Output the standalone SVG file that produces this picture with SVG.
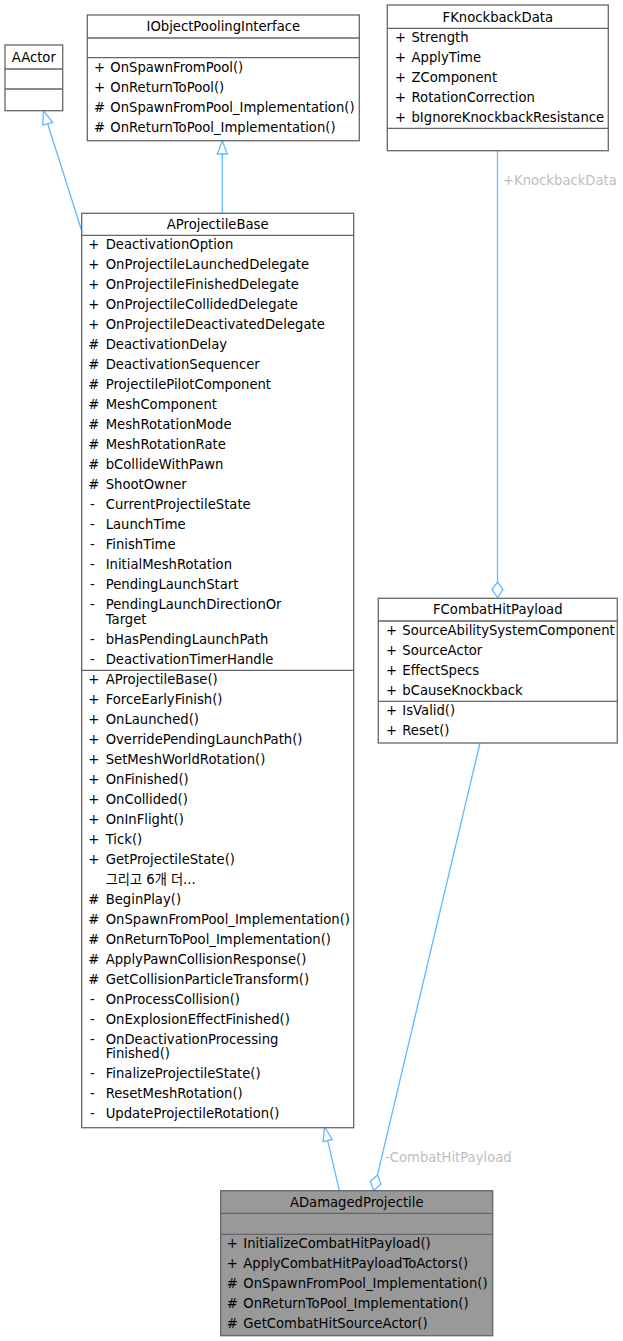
<svg xmlns="http://www.w3.org/2000/svg" width="623" height="1341" viewBox="0 0 623 1341">
<style>
.box{fill:#ffffff;stroke:#666666;stroke-width:1.3}
.dark{fill:#999999;stroke:#666666;stroke-width:1.3}
.sep{stroke:#666666;stroke-width:1.3}
text{font-family:"DejaVu Sans","Noto Sans CJK KR",sans-serif;font-size:13.2px;fill:#000000}
.t{text-anchor:middle}
.lbl{fill:#bebebe}
.edge{stroke:#63b8ff;stroke-width:1.3;fill:none}
.head{stroke:#63b8ff;stroke-width:1.3;fill:#ffffff}
</style>
<rect width="623" height="1341" fill="#ffffff"/>
<g id="connectors">
<path class="edge" d="M82,231.7 L45.5,117"/>
<polygon class="head" points="43.4,110.5 42.7,125 52.7,122.7"/>
<path class="edge" d="M222.3,213.3 L222.3,154"/>
<polygon class="head" points="222.3,140.7 217.3,154 227.3,154"/>
<path class="edge" d="M497.5,150.7 L497.5,582"/>
<polygon class="head" points="497.5,597.5 492,589.5 497.5,582 503,589.5"/>
<text class="lbl" x="503" y="184.5">+KnockbackData</text>
<path class="edge" d="M339.3,1190.7 L327.7,1140.6"/>
<polygon class="head" points="324.5,1127 323.1,1141.7 332.3,1139.5"/>
<path class="edge" d="M480,743 L377.5,1174.9"/>
<polygon class="head" points="373.8,1190.5 370.3,1181.4 377.5,1174.9 381,1184"/>
<text class="lbl" x="385" y="1162">-CombatHitPayload</text>
</g>
<g id="AActor">
<rect class="box" x="5" y="45" width="57.7" height="65.7"/>
<line class="sep" x1="5" y1="69" x2="62.7" y2="69"/>
<line class="sep" x1="5" y1="89" x2="62.7" y2="89"/>
<text class="t" x="33.8" y="61.5">AActor</text>
</g>
<g id="IObjectPoolingInterface">
<rect class="box" x="87.3" y="15" width="272" height="125.7"/>
<line class="sep" x1="87.3" y1="38" x2="359.3" y2="38"/>
<line class="sep" x1="87.3" y1="57.7" x2="359.3" y2="57.7"/>
<text class="t" x="223.3" y="31">IObjectPoolingInterface</text>
<text x="94" y="71.7">+</text><text x="110.3" y="71.7">OnSpawnFromPool()</text>
<text x="94" y="91.7">+</text><text x="110.3" y="91.7">OnReturnToPool()</text>
<text x="94" y="111.7">#</text><text x="110.3" y="111.7">OnSpawnFromPool_Implementation()</text>
<text x="94" y="131.7">#</text><text x="110.3" y="131.7">OnReturnToPool_Implementation()</text>
</g>
<g id="FKnockbackData">
<rect class="box" x="387.3" y="5" width="221" height="145.7"/>
<line class="sep" x1="387.3" y1="28.3" x2="608.3" y2="28.3"/>
<line class="sep" x1="387.3" y1="128.3" x2="608.3" y2="128.3"/>
<text class="t" x="497.8" y="21.5">FKnockbackData</text>
<text x="395" y="42.3">+</text><text x="411.5" y="42.3">Strength</text>
<text x="395" y="62.3">+</text><text x="411.5" y="62.3">ApplyTime</text>
<text x="395" y="82.3">+</text><text x="411.5" y="82.3">ZComponent</text>
<text x="395" y="102.3">+</text><text x="411.5" y="102.3">RotationCorrection</text>
<text x="395" y="122.3">+</text><text x="411.5" y="122.3">bIgnoreKnockbackResistance</text>
</g>
<g id="AProjectileBase">
<rect class="box" x="81.7" y="213.3" width="272" height="914.4"/>
<line class="sep" x1="81.7" y1="235.3" x2="353.7" y2="235.3"/>
<line class="sep" x1="81.7" y1="670.3" x2="353.7" y2="670.3"/>
<text class="t" x="217.7" y="229.3">AProjectileBase</text>
<text x="88.3" y="249.3">+</text><text x="105.7" y="249.3">DeactivationOption</text>
<text x="88.3" y="269.3">+</text><text x="105.7" y="269.3">OnProjectileLaunchedDelegate</text>
<text x="88.3" y="289.3">+</text><text x="105.7" y="289.3">OnProjectileFinishedDelegate</text>
<text x="88.3" y="309.3">+</text><text x="105.7" y="309.3">OnProjectileCollidedDelegate</text>
<text x="88.3" y="329.3">+</text><text x="105.7" y="329.3">OnProjectileDeactivatedDelegate</text>
<text x="88.3" y="349.3">#</text><text x="105.7" y="349.3">DeactivationDelay</text>
<text x="88.3" y="369.3">#</text><text x="105.7" y="369.3">DeactivationSequencer</text>
<text x="88.3" y="389.3">#</text><text x="105.7" y="389.3">ProjectilePilotComponent</text>
<text x="88.3" y="409.3">#</text><text x="105.7" y="409.3">MeshComponent</text>
<text x="88.3" y="429.3">#</text><text x="105.7" y="429.3">MeshRotationMode</text>
<text x="88.3" y="449.3">#</text><text x="105.7" y="449.3">MeshRotationRate</text>
<text x="88.3" y="469.3">#</text><text x="105.7" y="469.3">bCollideWithPawn</text>
<text x="88.3" y="489.3">#</text><text x="105.7" y="489.3">ShootOwner</text>
<text x="90" y="509.3">-</text><text x="105.7" y="509.3">CurrentProjectileState</text>
<text x="90" y="529.3">-</text><text x="105.7" y="529.3">LaunchTime</text>
<text x="90" y="549.3">-</text><text x="105.7" y="549.3">FinishTime</text>
<text x="90" y="569.3">-</text><text x="105.7" y="569.3">InitialMeshRotation</text>
<text x="90" y="589.3">-</text><text x="105.7" y="589.3">PendingLaunchStart</text>
<text x="90" y="609.3">-</text><text x="105.7" y="609.3">PendingLaunchDirectionOr</text>
<text x="105.7" y="624.3">Target</text>
<text x="90" y="644.3">-</text><text x="105.7" y="644.3">bHasPendingLaunchPath</text>
<text x="90" y="664.3">-</text><text x="105.7" y="664.3">DeactivationTimerHandle</text>
<text x="88.3" y="684.3">+</text><text x="105.7" y="684.3">AProjectileBase()</text>
<text x="88.3" y="704.3">+</text><text x="105.7" y="704.3">ForceEarlyFinish()</text>
<text x="88.3" y="724.3">+</text><text x="105.7" y="724.3">OnLaunched()</text>
<text x="88.3" y="744.3">+</text><text x="105.7" y="744.3">OverridePendingLaunchPath()</text>
<text x="88.3" y="764.3">+</text><text x="105.7" y="764.3">SetMeshWorldRotation()</text>
<text x="88.3" y="784.3">+</text><text x="105.7" y="784.3">OnFinished()</text>
<text x="88.3" y="804.3">+</text><text x="105.7" y="804.3">OnCollided()</text>
<text x="88.3" y="824.3">+</text><text x="105.7" y="824.3">OnInFlight()</text>
<text x="88.3" y="844.3">+</text><text x="105.7" y="844.3">Tick()</text>
<text x="88.3" y="864.3">+</text><text x="105.7" y="864.3">GetProjectileState()</text>
<text x="105.7" y="884.3">그리고 6개 더...</text>
<text x="88.3" y="904.3">#</text><text x="105.7" y="904.3">BeginPlay()</text>
<text x="88.3" y="924.3">#</text><text x="105.7" y="924.3">OnSpawnFromPool_Implementation()</text>
<text x="88.3" y="944.3">#</text><text x="105.7" y="944.3">OnReturnToPool_Implementation()</text>
<text x="88.3" y="964.3">#</text><text x="105.7" y="964.3">ApplyPawnCollisionResponse()</text>
<text x="88.3" y="984.3">#</text><text x="105.7" y="984.3">GetCollisionParticleTransform()</text>
<text x="90" y="1004.3">-</text><text x="105.7" y="1004.3">OnProcessCollision()</text>
<text x="90" y="1024.3">-</text><text x="105.7" y="1024.3">OnExplosionEffectFinished()</text>
<text x="90" y="1043.8">-</text><text x="105.7" y="1043.8">OnDeactivationProcessing</text>
<text x="105.7" y="1058.3">Finished()</text>
<text x="90" y="1078">-</text><text x="105.7" y="1078">FinalizeProjectileState()</text>
<text x="90" y="1098">-</text><text x="105.7" y="1098">ResetMeshRotation()</text>
<text x="90" y="1118">-</text><text x="105.7" y="1118">UpdateProjectileRotation()</text>
</g>
<g id="FCombatHitPayload">
<rect class="box" x="378.3" y="598.3" width="239" height="144.7"/>
<line class="sep" x1="378.3" y1="621" x2="617.3" y2="621"/>
<line class="sep" x1="378.3" y1="701.3" x2="617.3" y2="701.3"/>
<text class="t" x="497.8" y="614.3">FCombatHitPayload</text>
<text x="386" y="635">+</text><text x="402.3" y="635">SourceAbilitySystemComponent</text>
<text x="386" y="655">+</text><text x="402.3" y="655">SourceActor</text>
<text x="386" y="675">+</text><text x="402.3" y="675">EffectSpecs</text>
<text x="386" y="695">+</text><text x="402.3" y="695">bCauseKnockback</text>
<text x="386" y="715.3">+</text><text x="402.3" y="715.3">IsValid()</text>
<text x="386" y="735.3">+</text><text x="402.3" y="735.3">Reset()</text>
</g>
<g id="ADamagedProjectile">
<rect class="dark" x="220.7" y="1190.7" width="272" height="145"/>
<line class="sep" x1="220.7" y1="1213.3" x2="492.7" y2="1213.3"/>
<line class="sep" x1="220.7" y1="1234.3" x2="492.7" y2="1234.3"/>
<text class="t" x="356.7" y="1206.7">ADamagedProjectile</text>
<text x="226.7" y="1247.8">+</text><text x="243.3" y="1247.8">InitializeCombatHitPayload()</text>
<text x="226.7" y="1267.8">+</text><text x="243.3" y="1267.8">ApplyCombatHitPayloadToActors()</text>
<text x="226.7" y="1287.8">#</text><text x="243.3" y="1287.8">OnSpawnFromPool_Implementation()</text>
<text x="226.7" y="1307.8">#</text><text x="243.3" y="1307.8">OnReturnToPool_Implementation()</text>
<text x="226.7" y="1327.8">#</text><text x="243.3" y="1327.8">GetCombatHitSourceActor()</text>
</g>
</svg>
